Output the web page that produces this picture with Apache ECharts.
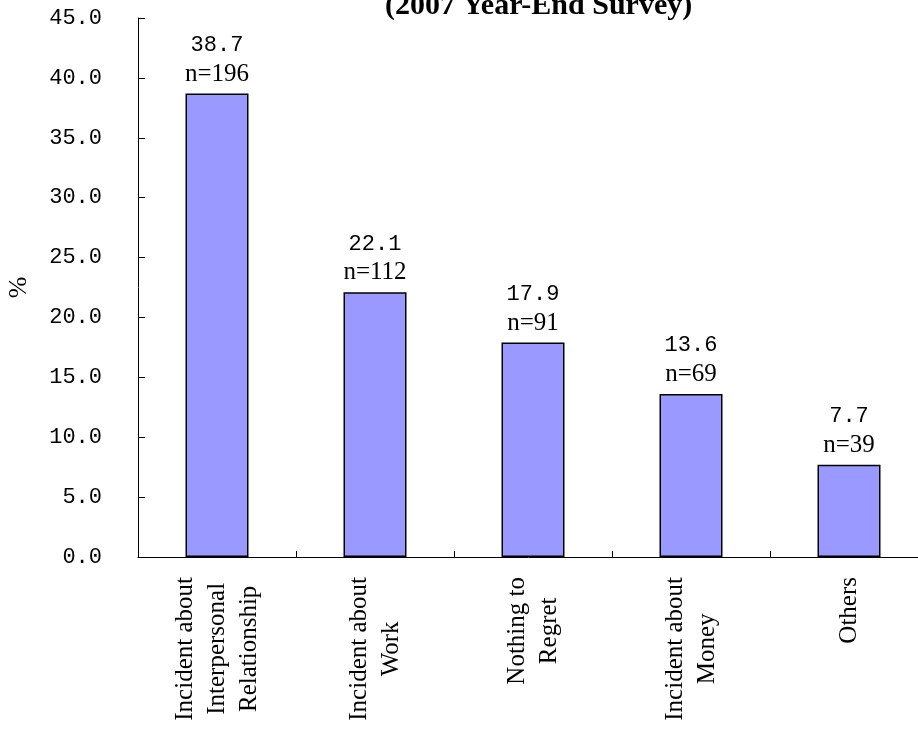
<!DOCTYPE html>
<html>
<head>
<meta charset="utf-8">
<script src="https://cdn.jsdelivr.net/npm/echarts@6/dist/echarts.min.js"></script>
<style>html,body{margin:0;padding:0;background:#fff;}#c{width:918px;height:731px;}</style>
</head>
<body>
<div id="c"></div>
<script>
const categories = [
  "Incident about\nInterpersonal\nRelationship",
  "Incident about\nWork",
  "Nothing to\nRegret",
  "Incident about\nMoney",
  "Others"
];
const percentValues = [38.7, 22.1, 17.9, 13.6, 7.7];
const counts = [196, 112, 91, 69, 39];
const titleText = "(2007 Year-End Survey)";
const yAxisName = "%";

const chart = echarts.init(document.getElementById('c'), null, {renderer: 'canvas'});
chart.setOption({
  animation: false,
  backgroundColor: '#fff',
  title: {
    text: titleText,
    left: 385,
    top: -9,
    padding: 0,
    textStyle: {fontFamily: 'Liberation Serif', fontWeight: 'bold', fontSize: 30, color: '#000'}
  },
  grid: {left: 138, top: 18, bottom: 174, width: 790, containLabel: false, outerBoundsMode: 'none'},
  xAxis: {
    type: 'category',
    data: categories,
    axisLine: {lineStyle: {color: '#000', width: 1}},
    axisTick: {show: true, inside: true, length: 6, lineStyle: {color: '#000'}},
    axisLabel: {
      interval: 0,
      rotate: 90,
      margin: 20,
      formatter: function (v) {
        return v.split('\n').map(s => '{l|' + s + '}').join('\n');
      },
      rich: {
        l: {fontFamily: 'Liberation Serif', fontSize: 25, lineHeight: 32, color: '#000', align: 'center'}
      }
    },
    splitLine: {show: false}
  },
  yAxis: {
    type: 'value',
    min: 0,
    max: 45,
    interval: 5,
    name: yAxisName,
    nameLocation: 'middle',
    nameGap: 106,
    nameRotate: 90,
    nameTextStyle: {fontFamily: 'Liberation Serif', fontSize: 26, color: '#000'},
    axisLine: {show: true, lineStyle: {color: '#000', width: 1}},
    axisTick: {show: true, inside: true, length: 7, lineStyle: {color: '#000'}},
    axisLabel: {
      margin: 36,
      fontFamily: 'Liberation Mono',
      fontSize: 22,
      color: '#000',
      formatter: v => v.toFixed(1)
    },
    splitLine: {show: false}
  },
  series: [{
    type: 'bar',
    data: percentValues,
    barWidth: 63,
    itemStyle: {color: '#9999FF', borderColor: '#000', borderWidth: 1.5},
    label: {
      show: true,
      position: 'top',
      distance: 5,
      formatter: function (p) {
        return '{v|' + p.value.toFixed(1) + '}\n{n|n=' + counts[p.dataIndex] + '}';
      },
      rich: {
        v: {fontFamily: 'Liberation Mono', fontSize: 22, lineHeight: 29, color: '#000'},
        n: {fontFamily: 'Liberation Serif', fontSize: 25, lineHeight: 29, color: '#000'}
      }
    }
  }]
});
</script>
</body>
</html>
